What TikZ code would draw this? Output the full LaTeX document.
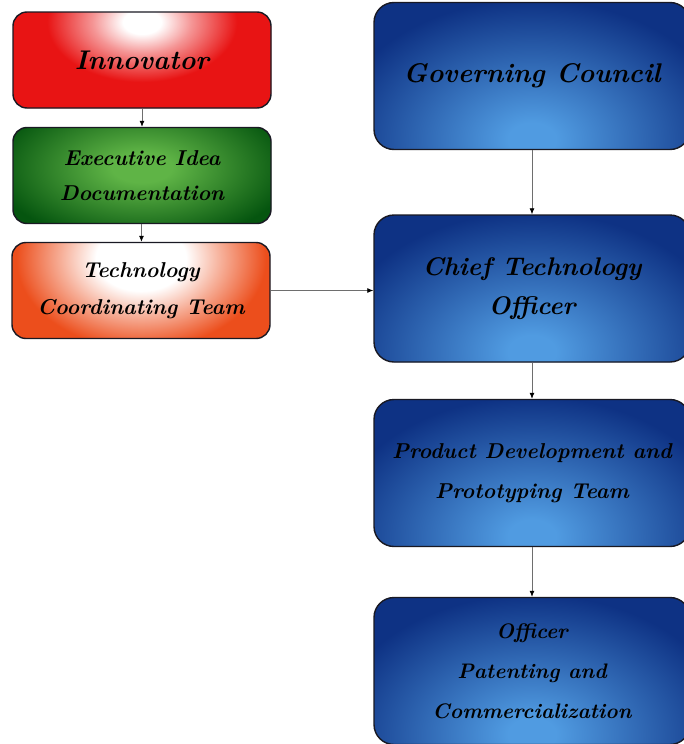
\documentclass[tikz,border=0pt]{standalone}
\usetikzlibrary{arrows.meta,calc}
\definecolor{innred}{RGB}{232,20,20}
\definecolor{grdark}{RGB}{5,85,15}
\definecolor{grlight}{RGB}{95,180,70}
\definecolor{orng}{RGB}{236,78,28}
\definecolor{bldark}{RGB}{14,50,132}
\definecolor{bllight}{RGB}{80,155,225}
\definecolor{edge}{RGB}{25,25,35}
\definecolor{conn}{RGB}{110,110,110}
\pgfdeclareradialshading{redglow}{\pgfpoint{0bp}{0bp}}{color(0bp)=(white); color(2.5bp)=(white); color(6.5bp)=(innred!45!white); color(12.5bp)=(innred); color(50bp)=(innred)}
\pgfdeclareradialshading{orangeglow}{\pgfpoint{0bp}{0bp}}{color(0bp)=(white); color(4.5bp)=(white); color(8bp)=(orng!45!white); color(12.5bp)=(orng); color(50bp)=(orng)}
\pgfdeclareradialshading{greenglow}{\pgfpoint{0bp}{0bp}}{color(0bp)=(grlight); color(2.5bp)=(grlight); color(12.5bp)=(grdark); color(50bp)=(grdark)}
\pgfdeclareradialshading{blueglow}{\pgfpoint{0bp}{0bp}}{color(0bp)=(bllight); color(1.5bp)=(bllight); color(12.5bp)=(bldark); color(50bp)=(bldark)}
\newcommand{\fsz}[1]{\fontsize{#1}{#1}\selectfont}
\tikzset{
  box/.style={draw=edge, line width=1.4pt, rounded corners=14pt, align=center,
    font=\bfseries\itshape, text=black, inner sep=0pt},
  leftbox/.style={box, minimum width=258pt, minimum height=96pt},
  rightbox/.style={box, minimum width=316pt, minimum height=147pt, rounded corners=20pt},
  redbox/.style={leftbox, fill=innred, path picture={
    \shade[shading=redglow]
      ($(path picture bounding box.north)+(-190,-130)$) rectangle ++(380,240);}},
  greenbox/.style={leftbox, fill=grdark, path picture={
    \shade[shading=greenglow]
      ($(path picture bounding box.center)+(-300,-142)$) rectangle ++(600,300);}},
  orangebox/.style={leftbox, fill=orng, path picture={
    \shade[shading=orangeglow]
      ($(path picture bounding box.north)+(-250,-196)$) rectangle ++(500,360);}},
  bluebox/.style={rightbox, fill=bldark, path picture={
    \shade[shading=blueglow]
      ($(path picture bounding box.south)+(-400,-270)$) rectangle ++(800,560);}},
  conline/.style={draw=conn, line width=0.8pt, -{Latex[length=6pt,width=5pt,color=black]}}
}
\begin{document}
\begin{tikzpicture}[x=1pt,y=1pt]
\useasboundingbox (0,0) rectangle (683,-744);
\fill[white] (0,0) rectangle (683,-744);
\node[redbox, font=\fsz{27}\bfseries\itshape] (inn) at (142,-60) {Innovator};
\node[greenbox, font=\fsz{21.5}\bfseries\itshape, align=center] (exe) at (142,-175.5) {Executive Idea\\[14pt]Documentation};
\node[orangebox, font=\fsz{21.5}\bfseries\itshape] (tct) at (141,-290.5) {Technology\\[15pt]Coordinating Team};
\node[bluebox, font=\fsz{27}\bfseries\itshape] (gov) at (532,-76) {Governing Council};
\node[bluebox, font=\fsz{25.5}\bfseries\itshape] (cto) at (532,-288.5) {Chief Technology\\[13pt]Officer};
\node[bluebox, font=\fsz{21.5}\bfseries\itshape] (pdt) at (532,-473) {Product Development and\\[18pt]Prototyping Team};
\node[bluebox, font=\fsz{21}\bfseries\itshape] (opc) at (532,-671) {Officer\\[19pt]Patenting and\\[19pt]Commercialization};
\draw[conline] (inn) -- (exe);
\draw[conline] (exe) -- (tct);
\draw[conline] (tct.east) -- (cto.west |- tct.east);
\draw[conline] (gov) -- (cto);
\draw[conline] (cto) -- (pdt);
\draw[conline] (pdt) -- (opc);
\end{tikzpicture}
\end{document}
